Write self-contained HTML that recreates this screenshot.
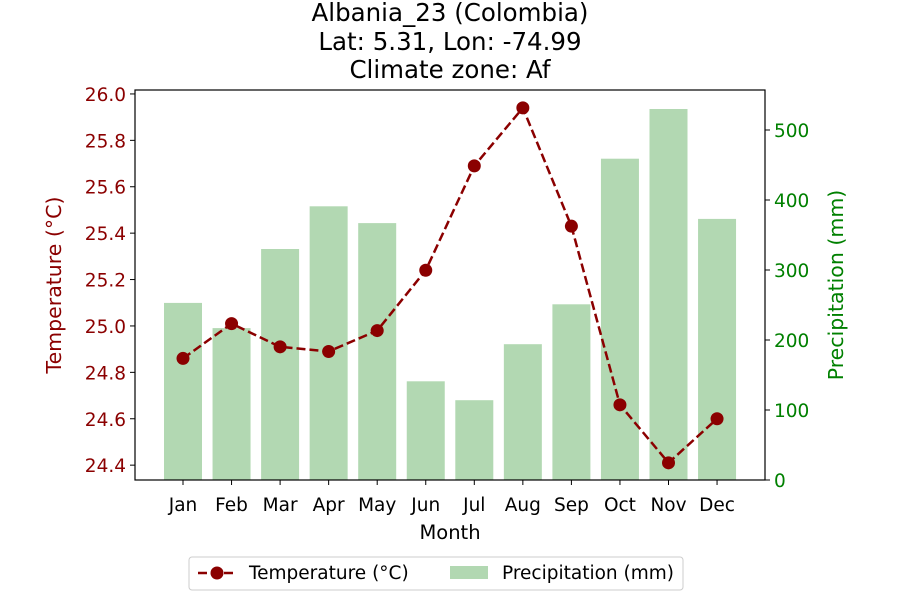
<!DOCTYPE html>
<html><head><meta charset="utf-8"><style>
body{margin:0;background:#fff;font-family:"Liberation Sans","DejaVu Sans",sans-serif}
svg text{font-family:"DejaVu Sans","Liberation Sans",sans-serif}
</style></head><body>
<svg id="chart" width="900" height="600">
<g id="bars"></g><g id="line"></g><g id="axes"></g>
</svg>
<script>
const months=["Jan","Feb","Mar","Apr","May","Jun","Jul","Aug","Sep","Oct","Nov","Dec"];
const temps=[24.86,25.01,24.91,24.89,24.98,25.24,25.69,25.94,25.43,24.66,24.41,24.60];
const precip=[253,217,330,391,367,141,114,194,251,459,530,373];
const leftTicks=[24.4,24.6,24.8,25.0,25.2,25.4,25.6,25.8,26.0];
const rightTicks=[0,100,200,300,400,500];
const NS="http://www.w3.org/2000/svg";
const X0=135,X1=765,Y0=90,Y1=480;
const tMin=24.336,tMax=26.017;
const xs=i=>183+i*48.55;
const yT=v=>Y1-(v-tMin)/(tMax-tMin)*(Y1-Y0);
const yP=v=>Y1-v*0.7;
function el(tag,attrs,parent,txt){const e=document.createElementNS(NS,tag);for(const k in attrs)e.setAttribute(k,attrs[k]);if(txt!==undefined)e.textContent=txt;parent.appendChild(e);return e;}
const bars=document.getElementById('bars'),line=document.getElementById('line'),axes=document.getElementById('axes');
precip.forEach((p,i)=>{const r=el('rect',{x:xs(i)-19,y:yP(p),width:38,height:Y1-yP(p),fill:'#b2d8b2'},bars);

});
const pl=el('polyline',{points:temps.map((t,i)=>xs(i)+','+yT(t)).join(' '),fill:'none',stroke:'#8b0000','stroke-width':2.5,'stroke-dasharray':'9,4'},line);


temps.forEach((t,i)=>{const c=el('circle',{cx:xs(i),cy:yT(t),r:6.5,fill:'#8b0000'},line);

});
el('rect',{x:X0,y:Y0,width:X1-X0,height:Y1-Y0,fill:'none',stroke:'#000','stroke-width':1.2},axes);
leftTicks.forEach(v=>{const y=yT(v);el('line',{x1:X0-5,x2:X0,y1:y,y2:y,stroke:'#000'},axes);
const t=el('text',{x:X0-9,y:y+7,'text-anchor':'end','font-size':18.5,fill:'#8b0000'},axes,v.toFixed(1));

});
rightTicks.forEach(v=>{const y=yP(v);el('line',{x1:X1,x2:X1+5,y1:y,y2:y,stroke:'#000'},axes);
const t=el('text',{x:X1+9,y:y+7,'font-size':18.5,fill:'#008000'},axes,v);

});
months.forEach((m,i)=>{el('line',{x1:xs(i),x2:xs(i),y1:Y1,y2:Y1+5,stroke:'#000'},axes);
const t=el('text',{x:xs(i),y:Y1+31,'text-anchor':'middle','font-size':18.5},axes,m);

});
</script>
<svg width="900" height="600" style="position:absolute;left:0;top:0">
<g font-size="24.5" text-anchor="middle">
<text x="450" y="21">Albania_23 (Colombia)</text>
<text x="450" y="50">Lat: 5.31, Lon: -74.99</text>
<text x="450" y="78">Climate zone: Af</text></g>
<text x="450" y="539" font-size="19.5" text-anchor="middle">Month</text>
<text transform="translate(61,285) rotate(-90)" font-size="20.5" text-anchor="middle" fill="#8b0000">Temperature (°C)</text>
<text transform="translate(843,285) rotate(-90)" font-size="20.5" text-anchor="middle" fill="#008000">Precipitation (mm)</text>
<g>
<rect x="189" y="557" width="494" height="33" rx="3" fill="#fff" stroke="#ccc"/>
<line x1="198" y1="573" x2="236" y2="573" stroke="#8b0000" stroke-width="2.5" stroke-dasharray="9,4"/>
<circle cx="217" cy="573" r="6.5" fill="#8b0000"/>
<text x="249" y="579" font-size="18.5">Temperature (°C)</text>
<rect x="450" y="566" width="38" height="13" fill="#b2d8b2"/>
<text x="502" y="579" font-size="18.5">Precipitation (mm)</text>
</g>
</svg>
</body></html>
